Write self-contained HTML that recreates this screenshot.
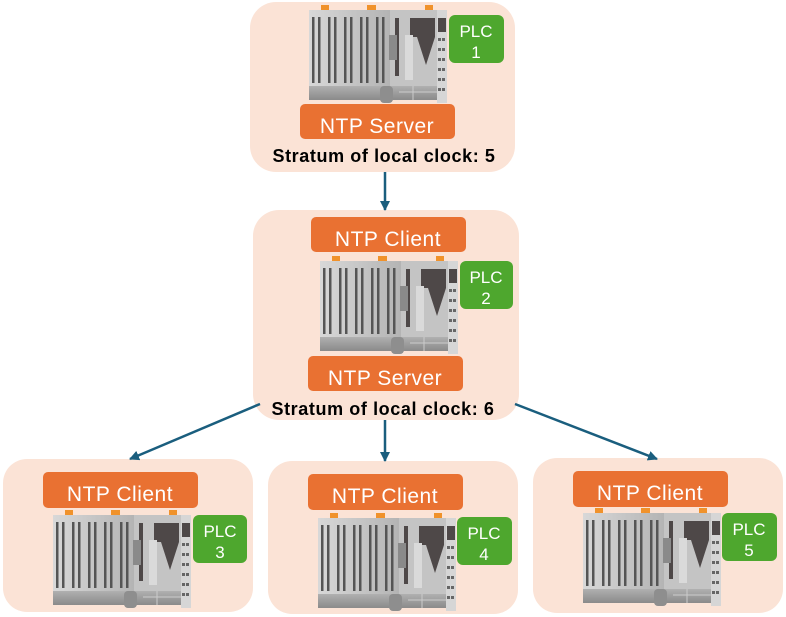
<!DOCTYPE html>
<html><head><meta charset="utf-8"><style>
html,body{margin:0;padding:0;background:#fff;width:786px;height:617px;overflow:hidden}
svg{display:block}
text{font-family:"Liberation Sans","DejaVu Sans",sans-serif}
</style></head><body>
<svg width="786" height="617" viewBox="0 0 786 617" xmlns="http://www.w3.org/2000/svg">
<defs>
<linearGradient id="mg" x1="0" x2="1"><stop offset="0" stop-color="#d8d8d8"/><stop offset="1" stop-color="#b4b4b4"/></linearGradient>
<linearGradient id="bg" x1="0" y1="0" x2="0" y2="1"><stop offset="0" stop-color="#b0b0b0"/><stop offset="1" stop-color="#8a8a8a"/></linearGradient>
<symbol id="plc" viewBox="0 0 138 98" width="138" height="98">
  <rect x="12" y="0" width="8" height="5" fill="#f0922b"/>
  <rect x="58" y="0" width="9" height="5" fill="#f0922b"/>
  <rect x="116" y="0" width="8" height="5" fill="#f0922b"/>
  <rect x="0" y="5" width="81" height="76" fill="url(#mg)"/>
  <g fill="#555">
    <rect x="3" y="12" width="2.5" height="66"/><rect x="9" y="12" width="2.5" height="66"/>
    <rect x="19" y="12" width="2.5" height="66"/><rect x="25" y="12" width="2.5" height="66"/>
    <rect x="35" y="12" width="2.5" height="66"/><rect x="41" y="12" width="2.5" height="66"/>
    <rect x="51" y="12" width="2.5" height="66"/><rect x="57" y="12" width="2.5" height="66"/>
    <rect x="67" y="12" width="2.5" height="66"/><rect x="73" y="12" width="2.5" height="66"/>
  </g>
  <rect x="81" y="5" width="47" height="76" fill="#c4c4c4"/>
  <rect x="86" y="13" width="4" height="58" fill="#4e4848"/>
  <rect x="80" y="30" width="8" height="25" fill="#8a8a8a"/>
  <polygon points="101,13 126,13 126,32 117,60 108,32 101,32" fill="#4e4848"/>
  <rect x="96" y="30" width="8" height="45" fill="#dadada"/>
  <rect x="128" y="5" width="10" height="93" fill="#d6d6d6"/>
  <rect x="129" y="13" width="8" height="14" fill="#4e4848"/>
  <g fill="#666"><rect x="129" y="33" width="3" height="3"/><rect x="133" y="33" width="3" height="3"/><rect x="129" y="43" width="3" height="3"/><rect x="133" y="43" width="3" height="3"/><rect x="129" y="53" width="3" height="3"/><rect x="133" y="53" width="3" height="3"/><rect x="129" y="63" width="3" height="3"/><rect x="133" y="63" width="3" height="3"/><rect x="129" y="73" width="3" height="3"/><rect x="133" y="73" width="3" height="3"/><rect x="129" y="83" width="3" height="3"/><rect x="133" y="83" width="3" height="3"/></g>
  <rect x="0" y="81" width="128" height="14" fill="url(#bg)"/>
  <rect x="71" y="81" width="13" height="17" rx="4" fill="#8e8e8e"/>
  <line x1="90" y1="87" x2="128" y2="87" stroke="#ccc" stroke-width="1"/>
  <line x1="104" y1="81" x2="104" y2="95" stroke="#ccc" stroke-width="1"/>
</symbol>
<marker id="ah" viewBox="0 0 10 10" refX="9" refY="5" markerWidth="4" markerHeight="4" orient="auto"><path d="M0,0 L10,5 L0,10 z" fill="#1a5e7e"/></marker>
</defs>

<g fill="#fbe3d6">
  <rect x="250" y="2" width="265" height="170" rx="26"/>
  <rect x="253" y="210" width="266" height="210" rx="26"/>
  <rect x="3" y="459" width="250" height="153" rx="24"/>
  <rect x="268" y="461" width="250" height="153" rx="24"/>
  <rect x="533" y="458" width="250" height="155" rx="24"/>
</g>

<g stroke="#1a5e7e" stroke-width="2.5" fill="none" marker-end="url(#ah)">
  <line x1="385" y1="172" x2="385" y2="210"/>
  <line x1="385" y1="420" x2="385" y2="461"/>
  <line x1="260" y1="404" x2="130" y2="459"/>
  <line x1="515" y1="404" x2="657" y2="459"/>
</g>

<use href="#plc" x="309" y="5"/>
<use href="#plc" x="320" y="256"/>
<use href="#plc" x="53" y="510"/>
<use href="#plc" x="318" y="513"/>
<use href="#plc" x="583" y="508"/>

<g fill="#4ea72e">
  <rect x="449" y="15" width="55" height="48" rx="6"/>
  <rect x="460" y="261" width="53" height="48" rx="6"/>
  <rect x="193" y="515" width="54" height="48" rx="6"/>
  <rect x="457" y="517" width="55" height="48" rx="6"/>
  <rect x="722" y="513" width="55" height="48" rx="6"/>
</g>
<g fill="#fff" font-size="17" text-anchor="middle">
  <text x="476" y="37">PLC</text><text x="476" y="58">1</text>
  <text x="486" y="283">PLC</text><text x="486" y="304">2</text>
  <text x="220" y="537">PLC</text><text x="220" y="558">3</text>
  <text x="484" y="539">PLC</text><text x="484" y="560">4</text>
  <text x="749" y="535">PLC</text><text x="749" y="556">5</text>
</g>

<g fill="#e97132">
  <rect x="300" y="104" width="155" height="35" rx="5"/>
  <rect x="311" y="217" width="155" height="35" rx="5"/>
  <rect x="308" y="356" width="155" height="35" rx="5"/>
  <rect x="43" y="472" width="155" height="36" rx="5"/>
  <rect x="308" y="474" width="155" height="36" rx="5"/>
  <rect x="573" y="471" width="155" height="36" rx="5"/>
</g>
<g fill="#fff" font-size="21" text-anchor="middle" letter-spacing="0.5">
  <text x="377" y="133">NTP Server</text>
  <text x="388" y="246">NTP Client</text>
  <text x="385" y="385">NTP Server</text>
  <text x="120" y="501">NTP Client</text>
  <text x="385" y="503">NTP Client</text>
  <text x="650" y="500">NTP Client</text>
</g>
<g fill="#000" font-size="18" font-weight="bold" text-anchor="middle" letter-spacing="0.6">
  <text x="384" y="162">Stratum of local clock: 5</text>
  <text x="383" y="415">Stratum of local clock: 6</text>
</g>
</svg>
</body></html>
